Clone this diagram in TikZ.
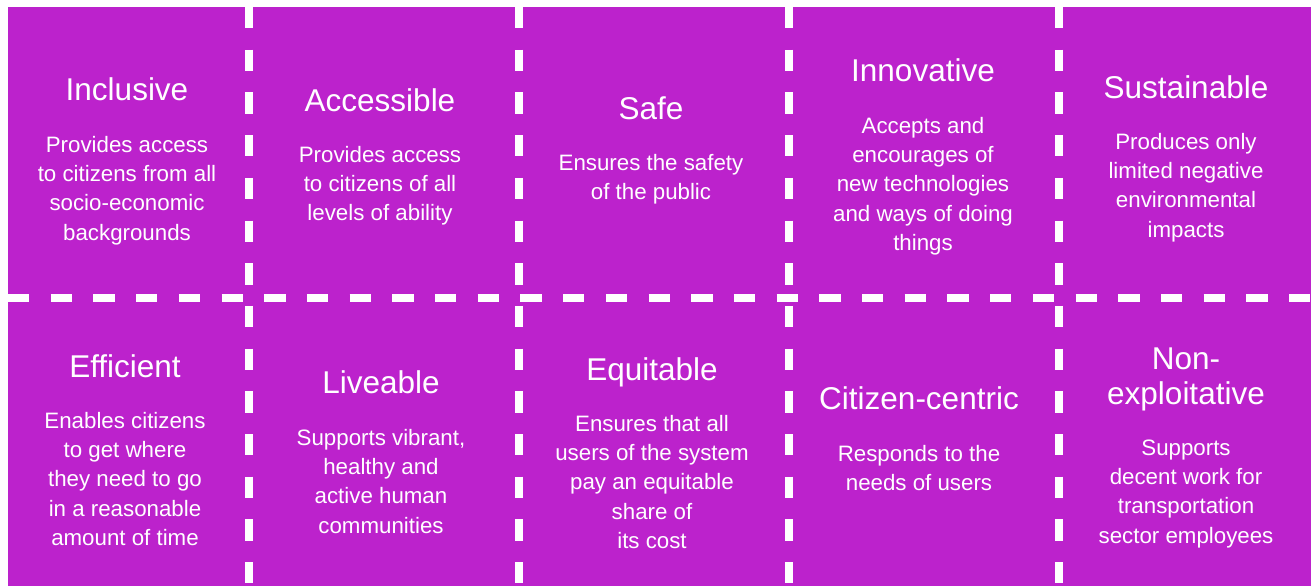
\documentclass[tikz,border=0pt]{standalone}
\usepackage{fontspec}
\setmainfont{Liberation Sans}
\definecolor{bgpurple}{RGB}{188,34,204}
\newcommand{\cbody}[1]{\begin{tabular}[t]{@{}c@{}}#1\end{tabular}}
\tikzset{
  ttl/.style={text=white, inner sep=0pt, anchor=base, font=\fontsize{31.5}{35}\selectfont},
  bodytxt/.style={text=white, inner sep=0pt, anchor=base, font=\fontsize{22.3}{29.2}\selectfont},
  divider/.style={draw=white, line width=8pt, dash pattern=on 21.35pt off 21.35pt}
}
\begin{document}
\begin{tikzpicture}[x=1pt,y=-1pt]
\useasboundingbox (0,0) rectangle (1311,586);
\fill[bgpurple] (8,7) rectangle (1311,586);
% dividers
\foreach \vx in {249,519,789,1059} {
  \draw[divider] (\vx,7) -- (\vx,586);
}
\draw[divider] (8,298) -- (1311,298);
% row 1
\node[ttl] (t1) at (127,100.5) {Inclusive};
\node[bodytxt] (b1) at (127,152.5) {\cbody{Provides access\\to citizens from all\\socio-economic\\backgrounds}};
\node[ttl] (t2) at (380,111.5) {Accessible};
\node[bodytxt] (b2) at (380,162.5) {\cbody{Provides access\\to citizens of all\\levels of ability}};
\node[ttl] (t3) at (651,119.5) {Safe};
\node[bodytxt] (b3) at (651,170.5) {\cbody{Ensures the safety\\of the public}};
\node[ttl] (t4) at (923,81.5) {Innovative};
\node[bodytxt] (b4) at (923,133.5) {\cbody{Accepts and\\encourages of\\new technologies\\and ways of doing\\things}};
\node[ttl] (t5) at (1186,98.5) {Sustainable};
\node[bodytxt] (b5) at (1186,149.5) {\cbody{Produces only\\limited negative\\environmental\\impacts}};
% row 2
\node[ttl] (t6) at (125,377.5) {Efficient};
\node[bodytxt] (b6) at (125,428.5) {\cbody{Enables citizens\\to get where\\they need to go\\in a reasonable\\amount of time}};
\node[ttl] (t7) at (381,393.5) {Liveable};
\node[bodytxt] (b7) at (381,445.5) {\cbody{Supports vibrant,\\healthy and\\active human\\communities}};
\node[ttl] (t8) at (652,380.5) {Equitable};
\node[bodytxt] (b8) at (652,431.5) {\cbody{Ensures that all\\users of the system\\pay an equitable\\share of\\its cost}};
\node[ttl] (t9) at (919,409.5) {Citizen-centric};
\node[bodytxt] (b9) at (919,461.5) {\cbody{Responds to the\\needs of users}};
\node[ttl] (t10) at (1186,369.5) {\cbody{Non-\\exploitative}};
\node[bodytxt] (b10) at (1186,455.5) {\cbody{Supports\\decent work for\\transportation\\sector employees}};
\end{tikzpicture}
\end{document}
